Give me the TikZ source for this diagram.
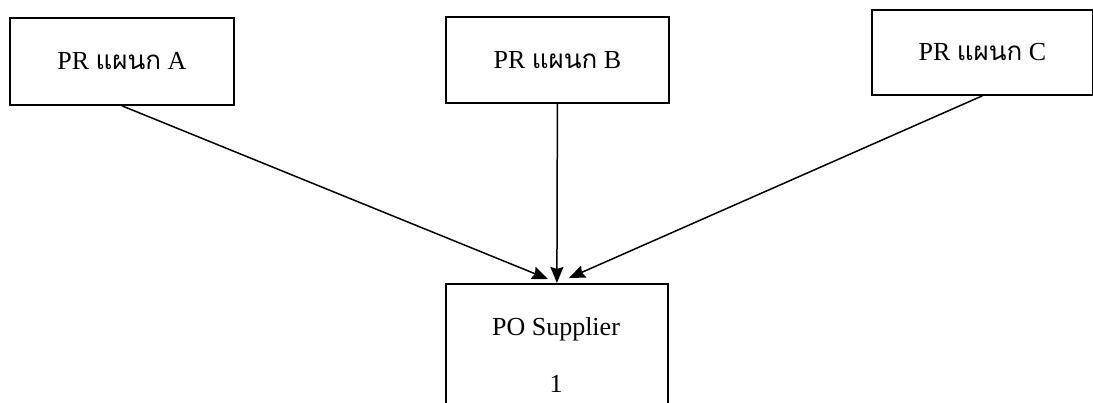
\documentclass[tikz,border=0pt]{standalone}
\usepackage{fontspec}
\setmainfont{Liberation Serif}
\newfontfamily\thaifont[Script=Thai]{Loma}
\usetikzlibrary{arrows.meta}
\tikzset{
  prbox/.style={draw=black, line width=1.8pt, rectangle, inner sep=0pt, anchor=north west, font=\fontsize{26}{30}\selectfont},
  flow/.style={draw=black, line width=1.5pt, -{Stealth[length=16pt,width=13pt,inset=2pt]}},
}
\begin{document}
\begin{tikzpicture}[x=1pt,y=-1pt]
\useasboundingbox (0,0) rectangle (1093,403);
\clip (0,0) rectangle (1093,403);
\node[prbox, minimum width=224pt, minimum height=87pt] (A) at (9,17) {PR {\thaifont แผนก} A};
\node[prbox, minimum width=223pt, minimum height=86pt] (B) at (445,16) {PR {\thaifont แผนก} B};
\node[prbox, minimum width=221pt, minimum height=85pt] (C) at (871,9) {PR {\thaifont แผนก} C};
\node[prbox, minimum width=222pt, minimum height=150pt] (PO) at (445,283) {};
\node[font=\fontsize{26}{30}\selectfont, anchor=base] (POt) at (556,336) {PO Supplier};
\node[font=\fontsize{26}{30}\selectfont, anchor=base] (POn) at (556,392) {1};
\coordinate (pa) at (548,279);
\coordinate (pc) at (569,278);
\draw[flow] (A.south) -- (pa);
\draw[flow] (B.south) -- (PO.north);
\draw[flow] (C.south) -- (pc);
\end{tikzpicture}
\end{document}
